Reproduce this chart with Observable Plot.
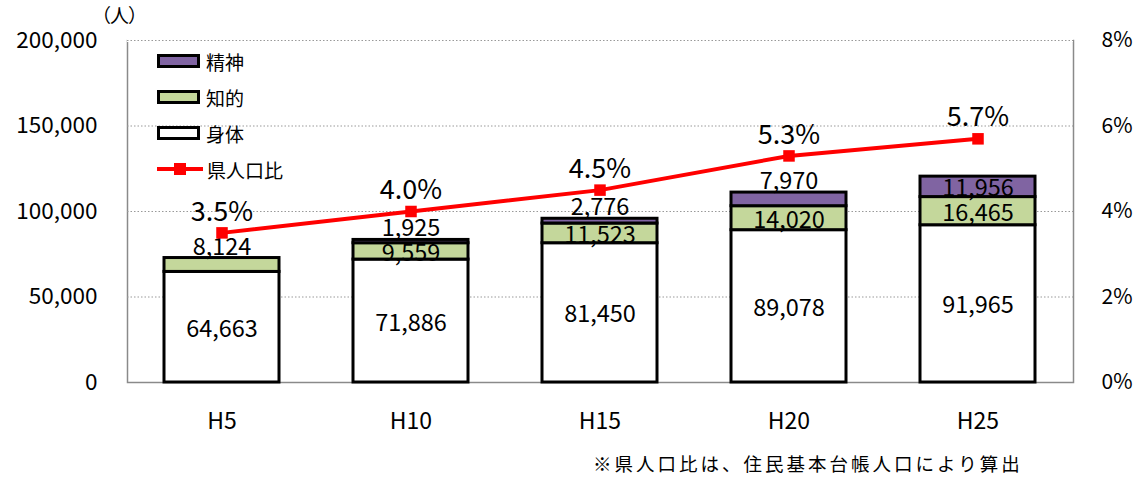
<!DOCTYPE html>
<html><head><meta charset="utf-8">
<script src="https://cdn.jsdelivr.net/npm/d3@7"></script>
<script src="https://cdn.jsdelivr.net/npm/@observablehq/plot@0.6"></script>
<style>
body{margin:0;background:#fff;font-family:'Noto Sans CJK JP',sans-serif;}
#wrap{position:relative;width:1145px;height:477px;}
#unit{position:absolute;left:92px;top:1px;font-size:19px;letter-spacing:-1px;}
#legend{position:absolute;left:157px;top:43px;font-size:19px;}
.li{display:flex;align-items:center;height:36px;}
.sw{box-sizing:border-box;width:43px;height:14px;border:3px solid #000;margin-right:6px;}
.ln{position:relative;width:46px;height:14px;margin-right:4px;}
.ln:before{content:"";position:absolute;left:0;right:0;top:5px;height:4px;background:#f00;}
.ln:after{content:"";position:absolute;left:17px;top:1px;width:12px;height:12px;background:#f00;}
#note{position:absolute;left:593px;top:450px;font-size:18.5px;letter-spacing:3px;}
</style></head>
<body><div id="wrap"><div id="chart"></div><div id="unit">（人）</div><div id="legend"></div><div id="note">※県人口比は、住民基本台帳人口により算出</div></div>
<script>
const years = ["H5","H10","H15","H20","H25"];
const shintai = [64663,71886,81450,89078,91965];
const chiteki = [8124,9559,11523,14020,16465];
const seishin = [0,1925,2776,7970,11956];
const ratio = [3.5,4.0,4.5,5.3,5.7];
const kinds = ["身体","知的","精神"];
const colors = ["#ffffff","#c4d79b","#8064a2"];
const leftTicks = [0,50000,100000,150000,200000];

const series = [shintai, chiteki, seishin];
const segments = [];
const labels = [];
years.forEach((yr,i)=>{
  let base = 0;
  const vals = series.map(s=>s[i]);
  const topIdx = vals.reduce((t,v,k)=> v>0 ? k : t, 0);
  vals.forEach((v,k)=>{
    if (v>0) {
      segments.push({year:yr, kind:kinds[k], value:v});
      const above = (k===topIdx && k>0 && v<10000);
      labels.push({year:yr, y: above ? base+v : base+v/2, above, text:d3.format(",")(v)});
    }
    base += v;
  });
});
const yMax = 200000, pMax = 8;
const lineData = years.map((yr,i)=>({year:yr, yv: ratio[i]/pMax*yMax, text: ratio[i].toFixed(1)+"%"}));

const plot = Plot.plot({
  width:1145, height:445,
  marginLeft:127, marginRight:72, marginTop:40, marginBottom:63,
  x:{domain:years, paddingInner:0.39, paddingOuter:0.195, label:null},
  y:{domain:[0,yMax], label:null},
  color:{domain:kinds, range:colors},
  style:{fontFamily:"'Noto Sans CJK JP',sans-serif", fontSize:"20px", color:"#000", background:"#fff"},
  marks:[
    Plot.frame({stroke:"#8a8a8a", strokeWidth:1.5}),
    Plot.ruleY([yMax],{stroke:"#fff", strokeWidth:3}),
    Plot.ruleY(leftTicks.slice(1),{stroke:"#999", strokeDasharray:"1.5,2"}),
    Plot.barY(segments, Plot.stackY({x:"year", y:"value", fill:"kind", order:null, stroke:"#000", strokeWidth:3})),
    Plot.text(labels.filter(d=>d.above),{x:"year", y:"y", text:"text", dy:-11, fontSize:23.5}),
    Plot.text(labels.filter(d=>!d.above),{x:"year", y:"y", text:"text", dy:2, fontSize:23.5}),
    Plot.lineY(lineData,{x:"year", y:"yv", stroke:"#f00", strokeWidth:4}),
    Plot.dot(lineData,{x:"year", y:"yv", symbol:"square", fill:"#f00", r:6.5}),
    Plot.text(lineData,{x:"year", y:"yv", text:"text", dy:-21, fontSize:27}),
    Plot.axisY({ticks:leftTicks, tickSize:0, tickPadding:30, tickFormat:d3.format(","), fontSize:22.5, label:null}),
    Plot.axisY({anchor:"right", ticks:leftTicks, tickSize:0, tickPadding:28, tickFormat:d=> (d/yMax*pMax)+"%", fontSize:21, label:null}),
    Plot.axisX({tickSize:0, tickPadding:30, fontSize:23, label:null})
  ]
});
document.getElementById("chart").appendChild(plot);

const lg = document.getElementById("legend");
[2,1,0].forEach(k=>{
  const d=document.createElement("div"); d.className="li";
  d.innerHTML=`<div class="sw" style="background:${colors[k]}"></div><span>${kinds[k]}</span>`;
  lg.appendChild(d);
});
const dl=document.createElement("div"); dl.className="li";
dl.innerHTML=`<div class="ln"></div><span>県人口比</span>`;
lg.appendChild(dl);
</script></body></html>
